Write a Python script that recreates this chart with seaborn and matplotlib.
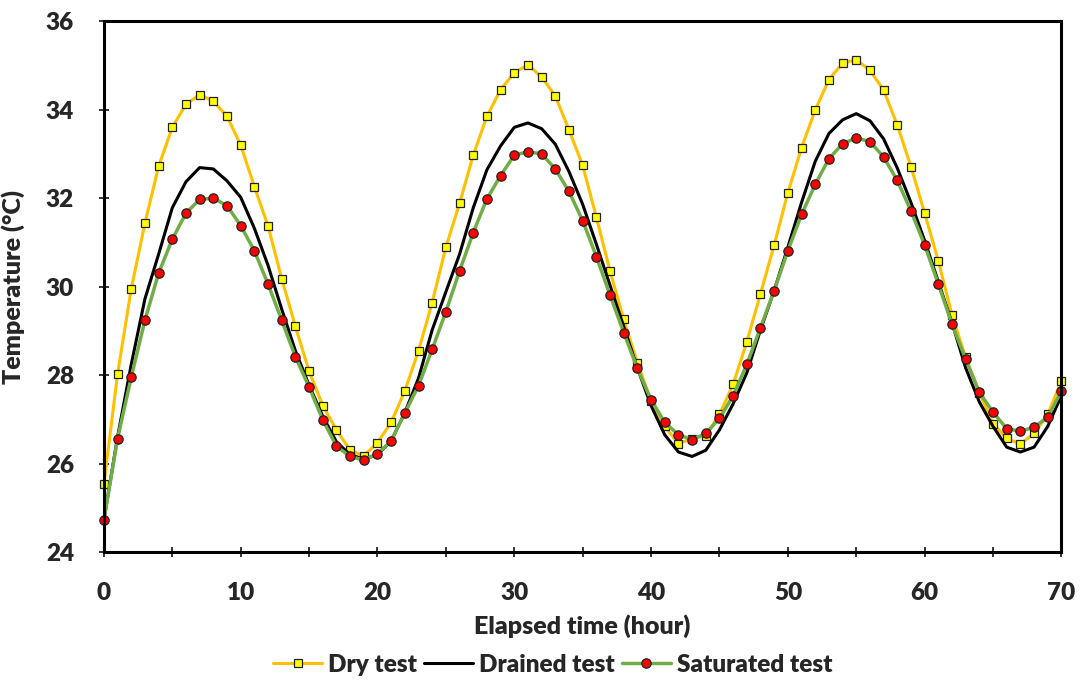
import numpy as np
import pandas as pd
import seaborn as sns
import matplotlib
matplotlib.use("Agg")
import matplotlib.pyplot as plt
from matplotlib.ticker import MultipleLocator

hours = list(range(0, 71))

dry_test = [25.53, 28.02, 29.95, 31.43, 32.72, 33.60, 34.12, 34.34, 34.19, 33.85,
            33.20, 32.26, 31.37, 30.18, 29.10, 28.09, 27.31, 26.76, 26.30, 26.17,
            26.47, 26.93, 27.64, 28.55, 29.64, 30.89, 31.88, 32.97, 33.85, 34.45,
            34.84, 35.01, 34.74, 34.31, 33.54, 32.74, 31.57, 30.35, 29.26, 28.28,
            27.42, 26.84, 26.45, 26.56, 26.63, 27.11, 27.79, 28.75, 29.84, 30.94,
            32.12, 33.14, 33.99, 34.68, 35.05, 35.13, 34.89, 34.44, 33.65, 32.71,
            31.66, 30.58, 29.35, 28.40, 27.60, 26.90, 26.57, 26.44, 26.68, 27.11,
            27.87]

drained_test = [24.72, 26.60, 28.24, 29.72, 30.73, 31.78, 32.37, 32.69, 32.66, 32.39,
                32.02, 31.32, 30.48, 29.49, 28.55, 27.77, 27.07, 26.49, 26.20, 26.10,
                26.20, 26.51, 27.15, 27.93, 29.02, 29.88, 30.73, 31.78, 32.64, 33.18,
                33.60, 33.70, 33.57, 33.22, 32.60, 31.86, 30.96, 30.03, 29.10, 28.16,
                27.31, 26.65, 26.26, 26.16, 26.30, 26.76, 27.35, 28.05, 29.02, 29.91,
                30.89, 31.90, 32.83, 33.46, 33.77, 33.91, 33.75, 33.34, 32.68, 31.90,
                31.04, 30.11, 29.18, 28.16, 27.39, 26.84, 26.37, 26.26, 26.37, 26.84,
                27.54]

saturated_test = [24.72, 26.56, 27.95, 29.24, 30.30, 31.07, 31.66, 31.97, 32.00, 31.83,
                  31.38, 30.81, 30.06, 29.24, 28.41, 27.73, 26.99, 26.39, 26.16, 26.08,
                  26.22, 26.51, 27.14, 27.76, 28.58, 29.43, 30.35, 31.22, 31.98, 32.51,
                  32.97, 33.05, 33.00, 32.66, 32.15, 31.49, 30.68, 29.81, 28.96, 28.15,
                  27.44, 26.93, 26.65, 26.54, 26.68, 27.02, 27.53, 28.24, 29.07, 29.91,
                  30.81, 31.63, 32.31, 32.89, 33.23, 33.36, 33.28, 32.93, 32.40, 31.71,
                  30.94, 30.06, 29.15, 28.36, 27.61, 27.16, 26.79, 26.73, 26.82, 27.05,
                  27.64]

df = pd.DataFrame({"hour": hours, "dry": dry_test, "drained": drained_test,
                   "saturated": saturated_test})

sns.set_style("white")
plt.rcParams["font.family"] = ["Lato", "DejaVu Sans"]
plt.rcParams["font.weight"] = "heavy"

fig = plt.figure(figsize=(10.82, 6.84), dpi=100)
ax = fig.add_axes([0.096, 0.193, 0.885, 0.776])

sns.lineplot(data=df, x="hour", y="dry", ax=ax, color="#FFC000", linewidth=2.2,
             marker="s", markersize=6.4, markerfacecolor="#FFFF00",
             markeredgecolor="#222222", markeredgewidth=0.9, label="Dry test",
             clip_on=False)
sns.lineplot(data=df, x="hour", y="drained", ax=ax, color="black", linewidth=2.2,
             label="Drained test")
sns.lineplot(data=df, x="hour", y="saturated", ax=ax, color="#70AD47", linewidth=2.5,
             marker="o", markersize=6.7, markerfacecolor="#FF0000",
             markeredgecolor="#222222", markeredgewidth=0.9, label="Saturated test",
             clip_on=False)

ax.set_xlim(0, 70)
ax.set_ylim(24, 36)
ax.xaxis.set_major_locator(MultipleLocator(10))
ax.xaxis.set_minor_locator(MultipleLocator(5))
ax.yaxis.set_major_locator(MultipleLocator(2))
ax.tick_params(axis="x", which="both", direction="inout", length=7, width=1.3,
               labelsize=17.5, pad=18, bottom=True)
ax.tick_params(axis="y", which="major", direction="inout", length=7, width=1.3,
               labelsize=17.5, pad=18, left=True)
for lab in ax.get_xticklabels() + ax.get_yticklabels():
    lab.set_fontweight("heavy")

for sp in ax.spines.values():
    sp.set_visible(True)
    sp.set_color("black")
    sp.set_linewidth(2.2)

ax.set_xlabel("Elapsed time (hour)", fontsize=18, fontweight="heavy")
ax.set_ylabel("Temperature (°C)", fontsize=18, fontweight="heavy")
ax.xaxis.set_label_coords(0.5, -0.118)
ax.yaxis.set_label_coords(-0.082, 0.5)

ax.get_legend().remove()
handles, labels = ax.get_legend_handles_labels()
fig.legend(handles, labels, loc="center", bbox_to_anchor=(0.511, 0.028), ncol=3,
           frameon=False, handlelength=2.0, handletextpad=0.25,
           columnspacing=0.3, prop={"weight": "heavy", "size": 17.5})

fig.savefig("out.png", dpi=100)
